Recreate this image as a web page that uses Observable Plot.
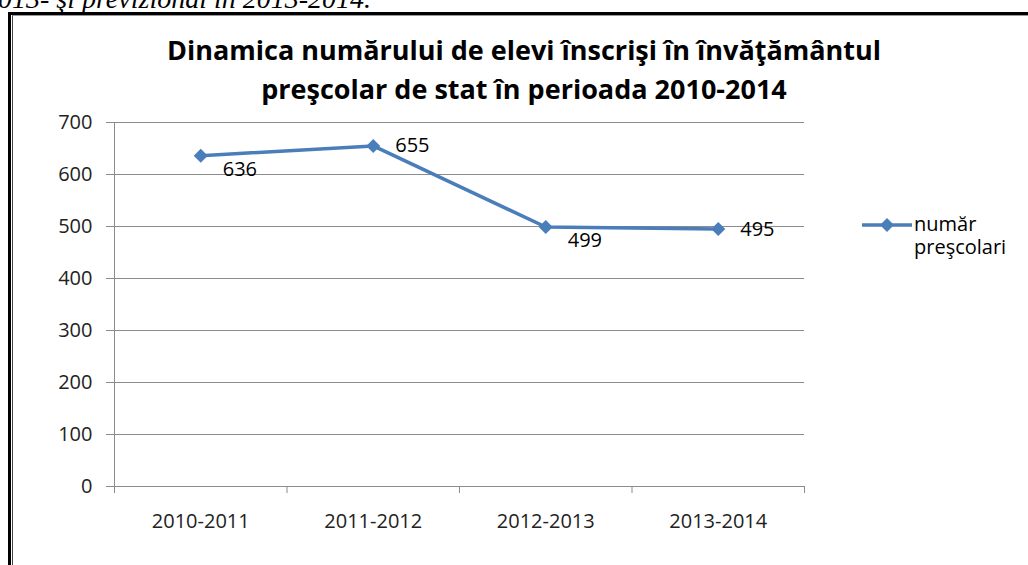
<!DOCTYPE html>
<html>
<head>
<meta charset="utf-8">
<script src="https://cdn.jsdelivr.net/npm/d3@7"></script>
<script src="https://cdn.jsdelivr.net/npm/@observablehq/plot@0.6"></script>
<style>
  html, body { margin: 0; padding: 0; background: #fff; overflow: hidden; }
  #page { position: relative; width: 1028px; height: 565px; overflow: hidden; background: #fff; }
  #topline { position: absolute; left: -2px; top: -15px; font-family: "Liberation Serif", serif; font-style: italic; font-size: 28px; line-height: 28px; white-space: nowrap; color: #000; }
  #frameOuter { position: absolute; left: 8px; top: 12px; width: 1100px; height: 700px; border-left: 3px solid #000; border-top: 3px solid #000; }
  #frameInner { position: absolute; left: 12px; top: 15px; width: 1100px; height: 700px; border-left: 1px solid #444; border-top: 1px solid #999; }
  #chart { position: absolute; left: 0; top: 0; }
  .title { position: absolute; left: 24px; width: 1000px; text-align: center; font-family: "Open Sans", sans-serif; font-weight: bold; font-size: 27px; line-height: 34px; color: #000; white-space: nowrap; }
  #legendSwatch { position: absolute; left: 860px; top: 213px; }
  .legendText { position: absolute; left: 914px; font-family: "Open Sans", sans-serif; font-size: 20px; line-height: 22px; color: #000; white-space: nowrap; }
</style>
</head>
<body>
<div id="page">
  <div id="topline">013- şi previzional în 2013-2014.</div>
  <div id="frameOuter"></div>
  <div id="frameInner"></div>
  <div id="chart"></div>
  <div class="title" id="title1" style="top:33px">Dinamica numărului de elevi înscrişi în învăţământul</div>
  <div class="title" id="title2" style="top:72px">preşcolar de stat în perioada 2010-2014</div>
  <svg id="legendSwatch" width="54" height="24"></svg>
  <div class="legendText" id="leg1" style="top:213px">număr</div>
  <div class="legendText" id="leg2" style="top:236px">preşcolari</div>
</div>
<script>
// ---- data ----
const categories = ["2010-2011", "2011-2012", "2012-2013", "2013-2014"];
const values = [636, 655, 499, 495];
const yTicks = [0, 100, 200, 300, 400, 500, 600, 700];
const seriesName = "număr preşcolari";
const labelsBelow = ["2010-2011", "2012-2013"];

const data = categories.map((c, i) => ({i, c, v: values[i]}));
const boundaries = d3.range(categories.length + 1).map(k => k - 0.5);

const blue = "#4a7ebb";
const gray = "#8c8c8c";

const chart = Plot.plot({
  width: 1028,
  height: 565,
  marginLeft: 114,
  marginRight: 224,
  marginTop: 122,
  marginBottom: 79,
  style: {background: "transparent", fontFamily: "Open Sans, sans-serif", fontSize: "20px"},
  x: {type: "linear", domain: [-0.5, categories.length - 0.5]},
  y: {domain: [0, 700]},
  marks: [
    Plot.gridY({ticks: yTicks, stroke: gray, strokeOpacity: 1}),
    Plot.ruleX([-0.5], {stroke: gray}),
    Plot.axisY({ticks: yTicks, tickSize: 8, tickPadding: 14, stroke: gray, strokeOpacity: 1, fill: "#222", fontSize: 20, label: null}),
    Plot.axisX({ticks: boundaries, tickSize: 7, tickFormat: () => "", stroke: gray, strokeOpacity: 1, label: null}),
    Plot.axisX({ticks: d3.range(categories.length), tickSize: 0, tickPadding: 27, tickFormat: i => categories[i], fill: "#222", fontSize: 20, label: null}),
    Plot.line(data, {x: "i", y: "v", stroke: blue, strokeWidth: 3.5}),
    Plot.dot(data, {x: "i", y: "v", symbol: "diamond2", r: 6.3, fill: blue, stroke: "none"}),
    Plot.text(data.filter(d => labelsBelow.includes(d.c)), {x: "i", y: "v", text: d => String(d.v), textAnchor: "start", dx: 22, dy: 14, fill: "#000", fontSize: 20}),
    Plot.text(data.filter(d => !labelsBelow.includes(d.c)), {x: "i", y: "v", text: d => String(d.v), textAnchor: "start", dx: 22, dy: 0, fill: "#000", fontSize: 20})
  ]
});
document.getElementById("chart").appendChild(chart);

// legend swatch
const sw = d3.select("#legendSwatch");
sw.append("line").attr("x1", 2).attr("x2", 52).attr("y1", 12).attr("y2", 12).attr("stroke", blue).attr("stroke-width", 3.5);
sw.append("path").attr("d", d3.symbol(d3.symbolDiamond2, Math.PI * 6.3 * 6.3)()).attr("transform", "translate(27,12)").attr("fill", blue);
</script>
</body>
</html>
